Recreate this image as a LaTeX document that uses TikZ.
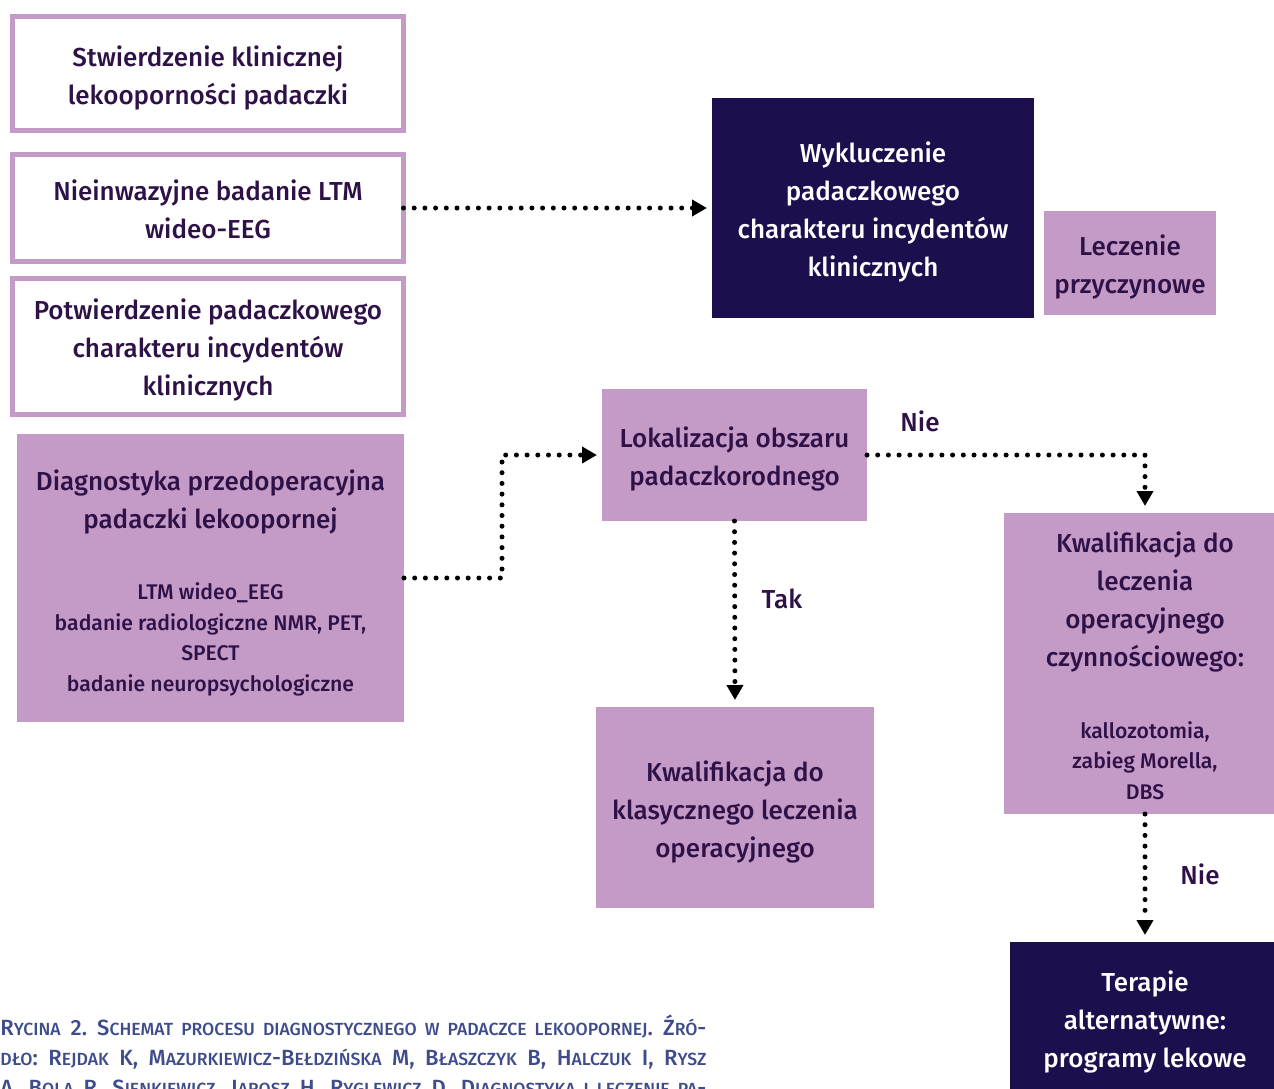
\documentclass[tikz,border=0pt]{standalone}
\usepackage{fontspec}
\setmainfont{Fira Sans}[UprightFont=* Medium]
\usetikzlibrary{arrows.meta}
\definecolor{lpurple}{HTML}{C49AC7}
\definecolor{navy}{HTML}{1D0E4E}
\definecolor{dtext}{HTML}{2D1147}
\definecolor{captc}{HTML}{3F4C8C}
\newcommand{\smc}[1]{{\fontsize{8.8}{10}\selectfont #1}}
\newcommand{\subfont}{\fontsize{10.6}{15.3}\selectfont}
\frenchspacing
\tikzset{
  base/.style={inner sep=0pt, outer sep=0pt},
  wbox/.style={base, draw=lpurple, line width=2.5pt, fill=white},
  pbox/.style={base, fill=lpurple},
  nbox/.style={base, fill=navy},
  txt/.style={inner sep=0pt, align=center, text=dtext, font=\fontsize{13}{19}\selectfont},
  wtxt/.style={txt, text=white},
  conn/.style={line width=2.5pt, line cap=round, dash pattern=on 0pt off 5.35pt, -{Triangle[length=7.5pt,width=8pt]}},
  lbl/.style={text=dtext, font=\fontsize{13}{15}\selectfont},
  capt/.style={anchor=base west, inner sep=0pt, text=captc, font=\fontsize{11}{15}\selectfont}
}
\begin{document}
\begin{tikzpicture}[x=0.5pt,y=-0.5pt]
\useasboundingbox (0,0) rectangle (1274,1088);
\clip (0,0) rectangle (1274,1088);
% boxes
\node[wbox, minimum width=195.5pt, minimum height=57pt] (b1) at (208,73.5) {};
\node[wbox, minimum width=195.5pt, minimum height=53.5pt] (b2) at (208,208) {};
\node[wbox, minimum width=195.5pt, minimum height=68pt] (b3) at (208,346.5) {};
\node[pbox, minimum width=193.5pt, minimum height=144pt] (b4) at (210.5,578) {};
\node[nbox, minimum width=161pt, minimum height=110pt] (b5) at (873,208) {};
\node[pbox, minimum width=86pt, minimum height=52pt] (b6) at (1130,263) {};
\node[pbox, minimum width=132.5pt, minimum height=66pt] (b7) at (734.5,455) {};
\node[pbox, minimum width=139pt, minimum height=100.5pt] (b8) at (735,807.5) {};
\node[pbox, minimum width=141pt, minimum height=150.5pt] (b9) at (1145,663.5) {};
\node[nbox, minimum width=135pt, minimum height=76pt] (b10) at (1145,1018) {};
% box texts
\node[txt] (t1) at ([yshift=-2pt]b1.center) {Stwierdzenie klinicznej\\lekooporności padaczki};
\node[txt] (t2) at ([yshift=-0.5pt]b2.center) {Nieinwazyjne badanie LTM\\wideo-EEG};
\node[txt] (t3) at ([yshift=-1.5pt]b3.center) {Potwierdzenie padaczkowego\\charakteru incydentów\\klinicznych};
\node[txt] (t4) at ([yshift=-2.5pt]b4.center) {Diagnostyka przedoperacyjna\\padaczki lekoopornej\\[16.5pt]
\subfont LTM wideo\_EEG\\[-3.7pt]\subfont badanie radiologiczne NMR, PET,\\[-3.7pt]\subfont SPECT\\[-3.7pt]\subfont badanie neuropsychologiczne};
\node[wtxt] (t5) at ([yshift=-2pt]b5.center) {Wykluczenie\\padaczkowego\\charakteru incydentów\\klinicznych};
\node[txt] (t6) at ([yshift=-2pt]b6.center) {Leczenie\\przyczynowe};
\node[txt] (t7) at ([yshift=-2pt]b7.center) {Lokalizacja obszaru\\padaczkorodnego};
\node[txt] (t8) at ([yshift=-2pt]b8.center) {Kwalifikacja do\\klasycznego leczenia\\operacyjnego};
\node[txt] (t9) at ([yshift=-1pt]b9.center) {Kwalifikacja do\\leczenia\\operacyjnego\\czynnościowego:\\[17pt]
\subfont kallozotomia,\\[-3.7pt]\subfont zabieg Morella,\\[-3.7pt]\subfont DBS};
\node[wtxt] (t10) at ([yshift=-2pt]b10.center) {Terapie\\alternatywne:\\programy lekowe};
% connectors
\coordinate (j1) at (502,578);
\draw[conn, shorten >=2.5pt] (b2.east) -- (b5.west);
\draw[conn, shorten >=2.5pt] (b4.east) -- (j1) |- (b7.west);
\draw[conn, shorten >=3.5pt] (b7.east) -| (b9.north);
\draw[conn, shorten >=3.5pt] (b7.south) -- (b8.north);
\draw[conn, shorten >=3.5pt] (b9.south) -- (b10.north);
\node[lbl] (l1) at (920,421) {Nie};
\node[lbl] (l2) at (782,599) {Tak};
\node[lbl] (l3) at (1200,874) {Nie};
% caption
\node[capt] (c1) at (0,1035)
 {\makebox[353pt][s]{R\smc{YCINA} 2. S\smc{CHEMAT PROCESU DIAGNOSTYCZNEGO W PADACZCE LEKOOPORNEJ}. Ź\smc{RÓ}-}};
\node[capt] (c2) at (0,1065)
 {\makebox[353pt][s]{\smc{DŁO}: R\smc{EJDAK} K, M\smc{AZURKIEWICZ}-B\smc{EŁDZIŃSKA} M, B\smc{ŁASZCZYK} B, H\smc{ALCZUK} I, R\smc{YSZ}}};
\node[capt] (c3) at (0,1095)
 {\makebox[353pt][s]{A, B\smc{OLA} R, S\smc{IENKIEWICZ}, J\smc{AROSZ} H, R\smc{YGLEWICZ} D. D\smc{IAGNOSTYKA I LECZENIE PA}-}};
\end{tikzpicture}
\end{document}
